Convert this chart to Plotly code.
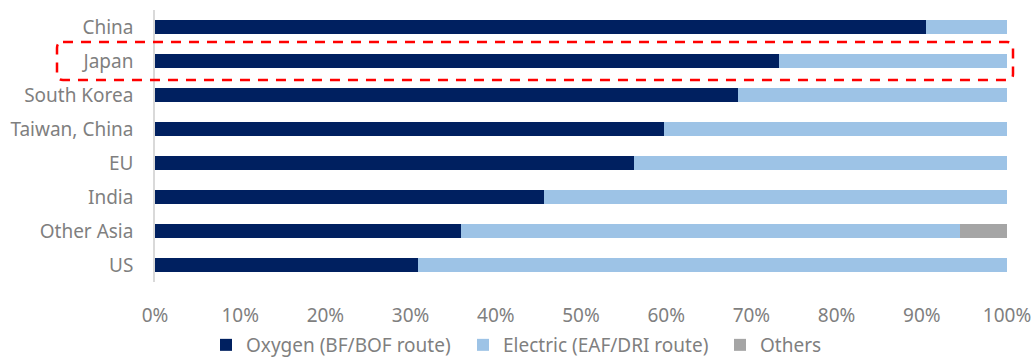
import plotly.graph_objects as go

regions = ["China", "Japan", "South Korea", "Taiwan, China", "EU", "India", "Other Asia", "US"]
oxygen = [90.5, 73.2, 68.4, 59.7, 56.2, 45.7, 35.9, 30.9]
electric = [9.5, 26.8, 31.6, 40.3, 43.8, 54.3, 58.6, 69.1]
others = [0, 0, 0, 0, 0, 0, 5.5, 0]
x_ticks = [0, 10, 20, 30, 40, 50, 60, 70, 80, 90, 100]

W, H = 1034, 358
L, R = 155, 27
PLOT_TOP, PLOT_BOTTOM = 10, 282
FONT = "Noto Sans"
GREY = "#7f7f7f"
FS = 19

fig = go.Figure()
for name, vals, col in [
    ("Oxygen (BF/BOF route)", oxygen, "#002060"),
    ("Electric (EAF/DRI route)", electric, "#9dc3e6"),
    ("Others", others, "#a5a5a5"),
]:
    fig.add_trace(go.Bar(
        y=regions, x=vals, name=name, orientation="h",
        marker=dict(color=col, line=dict(width=0)),
        hoverinfo="x+y+name",
    ))

# paper spans the whole canvas vertically; the axis domain sets the plot area
pw = W - L - R
def px(x):
    return (x - L) / pw
def py(y):
    return (H - y) / H

# dashed highlight box around the Japan row
x0, x1, y0, y1, r = 57, 1013, 42, 80, 6
path = (
    f"M {px(x0 + r)},{py(y0)} L {px(x1 - r)},{py(y0)} "
    f"Q {px(x1)},{py(y0)} {px(x1)},{py(y0 + r)} "
    f"L {px(x1)},{py(y1 - r)} Q {px(x1)},{py(y1)} {px(x1 - r)},{py(y1)} "
    f"L {px(x0 + r)},{py(y1)} Q {px(x0)},{py(y1)} {px(x0)},{py(y1 - r)} "
    f"L {px(x0)},{py(y0 + r)} Q {px(x0)},{py(y0)} {px(x0 + r)},{py(y0)} Z"
)
fig.add_shape(type="path", path=path, xref="paper", yref="paper",
              line=dict(color="#ff0000", width=2.5, dash="10px,8px"),
              fillcolor="rgba(0,0,0,0)", layer="above")

fig.update_layout(
    width=W, height=H, margin=dict(l=L, r=R, t=0, b=0, autoexpand=False),
    barmode="stack", bargap=0.59,
    plot_bgcolor="white", paper_bgcolor="white",
    font=dict(family=FONT, size=FS, color=GREY),
    showlegend=True,
    legend=dict(orientation="h", x=px(206), xanchor="left", y=py(345), yanchor="middle",
                font=dict(family=FONT, size=FS, color=GREY), traceorder="normal",
                entrywidth=212, entrywidthmode="pixels",
                itemwidth=30, bgcolor="rgba(0,0,0,0)"),
    xaxis=dict(range=[0, 100], tickvals=x_ticks, ticktext=[f"{v}%" for v in x_ticks],
               showgrid=False, zeroline=False, showline=False, ticks="",
               ticklabelstandoff=20, tickfont=dict(color=GREY, size=FS), fixedrange=True),
    yaxis=dict(categoryorder="array", categoryarray=regions[::-1], autorange=True,
               domain=[py(PLOT_BOTTOM), py(PLOT_TOP)],
               showgrid=False, zeroline=False, showline=True, linecolor="#d9d9d9",
               linewidth=1.5, ticks="", ticklabelstandoff=16,
               tickfont=dict(color=GREY, size=FS), fixedrange=True),
)

fig.write_html("out.html")
